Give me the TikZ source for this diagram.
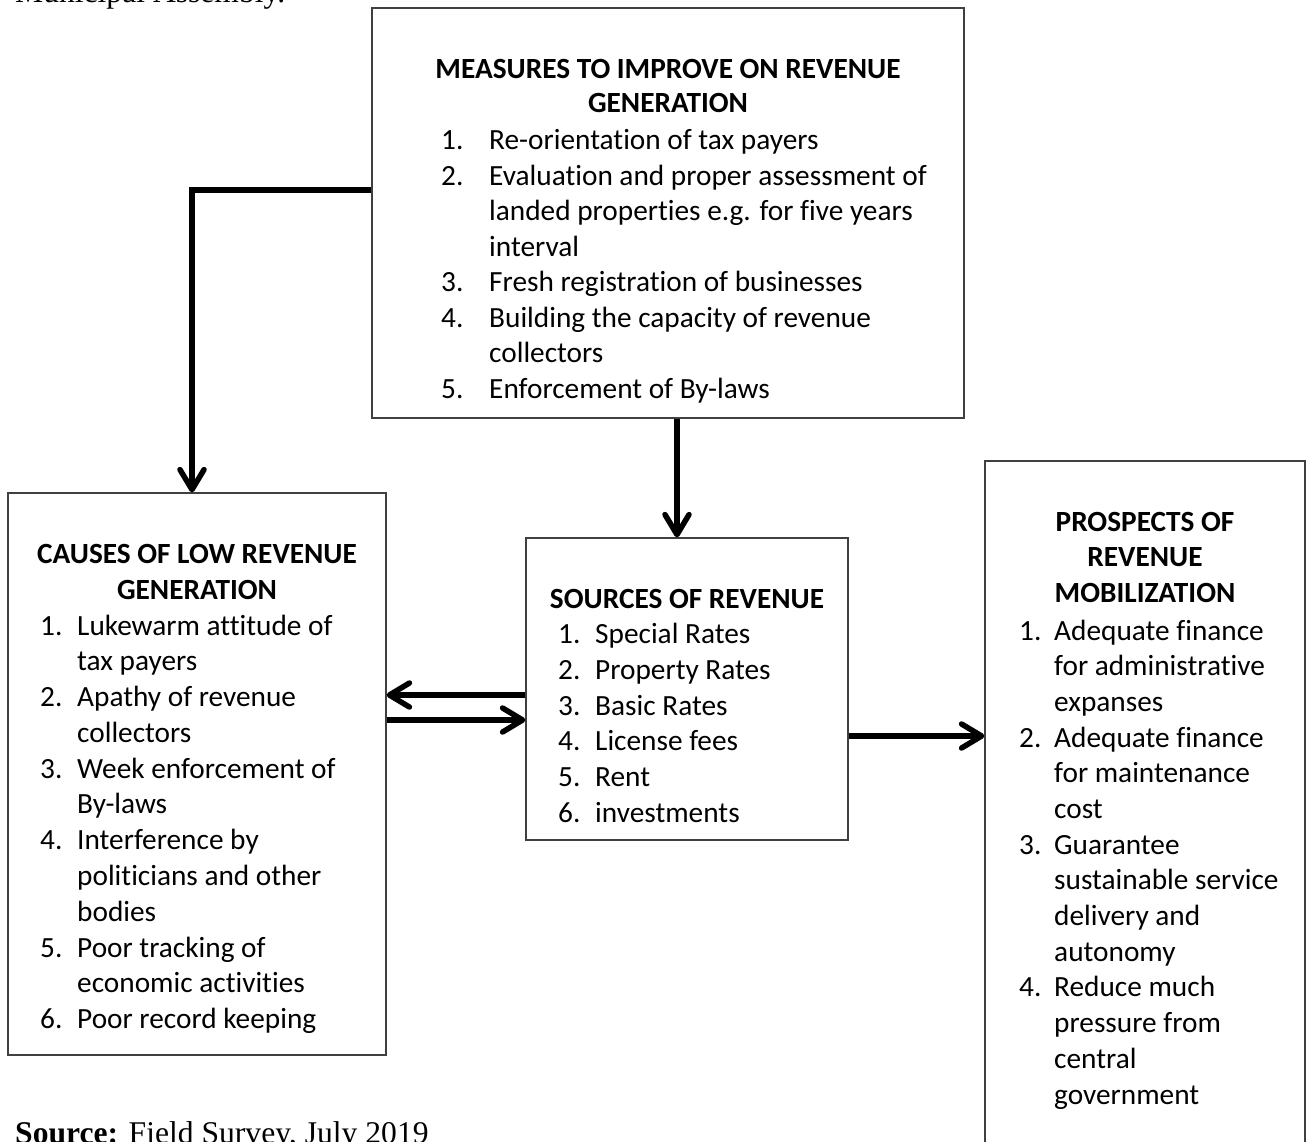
\documentclass[tikz,border=0pt]{standalone}
\usepackage{fontspec}
\setmainfont[Ligatures={NoCommon}]{Carlito}
\newfontfamily\timesfont{Liberation Serif}
\usetikzlibrary{arrows.meta}
\begin{document}
\begin{tikzpicture}[x=1pt,y=-1pt,
  box/.style={draw=black!75, line width=1.3pt, inner sep=0pt},
  conn/.style={line width=5.5pt, -{Straight Barb[length=20pt,width=24pt,line width=5.5pt,round]}},
  txt/.style={font=\fontsize{29.3}{35.8}\selectfont, anchor=base west, inner sep=0pt},
  ttl/.style={font=\bfseries\fontsize{29.3}{35.8}\selectfont, anchor=base, inner sep=0pt},
  note/.style={font=\timesfont\fontsize{31.6}{36}\selectfont, anchor=base west, inner sep=0pt},
]
\useasboundingbox (0,0) rectangle (1313,1141);
\clip (0,0) rectangle (1313,1141);

% boxes
\node[box, minimum width=592pt, minimum height=410pt] (meas) at (668,213) {};
\node[box, minimum width=378pt, minimum height=562pt] (causes) at (197,774) {};
\node[box, minimum width=322pt, minimum height=302pt] (sources) at (687,689) {};
\node[box, minimum width=320pt, minimum height=760pt] (pros) at (1145,841) {};

% helper coordinates for connectors
\coordinate (k1) at (192,190);
\coordinate (k2) at (677,0);
\coordinate (ky1) at (0,695);
\coordinate (ky2) at (0,720);
\coordinate (ky3) at (0,736);

% connectors
\draw[conn] (meas.west |- k1) -- (k1) -- (causes.north -| k1);
\draw[conn] (meas.south -| k2) -- (sources.north -| k2);
\draw[conn] (sources.west |- ky1) -- (causes.east |- ky1);
\draw[conn] (causes.east |- ky2) -- (sources.west |- ky2);
\draw[conn] (sources.east |- ky3) -- (pros.west |- ky3);

% top box text
\node[ttl] (mt1) at (668,78) {MEASURES TO IMPROVE ON REVENUE};
\node[ttl] (mt2) at (668,112) {GENERATION};
\node[txt] (mn1) at (441,149) {1.};
\node[txt] (m1) at (489,149) {Re-orientation of tax payers};
\node[txt] (mn2) at (441,185) {2.};
\node[txt] (m2a) at (489,185) {Evaluation and proper assessment of};
\node[txt] (m2b) at (489,220) {landed properties e.g. for five years};
\node[txt] (m2c) at (489,256) {interval};
\node[txt] (mn3) at (441,291) {3.};
\node[txt] (m3) at (489,291) {Fresh registration of businesses};
\node[txt] (mn4) at (441,327) {4.};
\node[txt] (m4a) at (489,327) {Building the capacity of revenue};
\node[txt] (m4b) at (489,362) {collectors};
\node[txt] (mn5) at (441,398) {5.};
\node[txt] (m5) at (489,398) {Enforcement of By-laws};

% left box text
\node[ttl] (ct1) at (197,563) {CAUSES OF LOW REVENUE};
\node[ttl] (ct2) at (197,599) {GENERATION};
\node[txt] (cn1) at (40,635) {1.};
\node[txt] (c1a) at (77,635) {Lukewarm attitude of};
\node[txt] (c1b) at (77,670) {tax payers};
\node[txt] (cn2) at (40,706) {2.};
\node[txt] (c2a) at (77,706) {Apathy of revenue};
\node[txt] (c2b) at (77,742) {collectors};
\node[txt] (cn3) at (40,778) {3.};
\node[txt] (c3a) at (77,778) {Week enforcement of};
\node[txt] (c3b) at (77,813) {By-laws};
\node[txt] (cn4) at (40,849) {4.};
\node[txt] (c4a) at (77,849) {Interference by};
\node[txt] (c4b) at (77,885) {politicians and other};
\node[txt] (c4c) at (77,921) {bodies};
\node[txt] (cn5) at (40,957) {5.};
\node[txt] (c5a) at (77,957) {Poor tracking of};
\node[txt] (c5b) at (77,992) {economic activities};
\node[txt] (cn6) at (40,1028) {6.};
\node[txt] (c6) at (77,1028) {Poor record keeping};

% middle box text
\node[ttl] (st) at (687,608) {SOURCES OF REVENUE};
\node[txt] (sn1) at (558,643) {1.};
\node[txt] (s1) at (595,643) {Special Rates};
\node[txt] (sn2) at (558,679) {2.};
\node[txt] (s2) at (595,679) {Property Rates};
\node[txt] (sn3) at (558,715) {3.};
\node[txt] (s3) at (595,715) {Basic Rates};
\node[txt] (sn4) at (558,750) {4.};
\node[txt] (s4) at (595,750) {License fees};
\node[txt] (sn5) at (558,786) {5.};
\node[txt] (s5) at (595,786) {Rent};
\node[txt] (sn6) at (558,822) {6.};
\node[txt] (s6) at (595,822) {investments};

% right box text
\node[ttl] (pt1) at (1145,531) {PROSPECTS OF};
\node[ttl] (pt2) at (1145,566) {REVENUE};
\node[ttl] (pt3) at (1145,602) {MOBILIZATION};
\node[txt] (pn1) at (1019,640) {1.};
\node[txt] (p1a) at (1054,640) {Adequate finance};
\node[txt] (p1b) at (1054,675) {for administrative};
\node[txt] (p1c) at (1054,711) {expanses};
\node[txt] (pn2) at (1019,747) {2.};
\node[txt] (p2a) at (1054,747) {Adequate finance};
\node[txt] (p2b) at (1054,782) {for maintenance};
\node[txt] (p2c) at (1054,818) {cost};
\node[txt] (pn3) at (1019,854) {3.};
\node[txt] (p3a) at (1054,854) {Guarantee};
\node[txt] (p3b) at (1054,889) {sustainable service};
\node[txt] (p3c) at (1054,925) {delivery and};
\node[txt] (p3d) at (1054,961) {autonomy};
\node[txt] (pn4) at (1019,996) {4.};
\node[txt] (p4a) at (1054,996) {Reduce much};
\node[txt] (p4b) at (1054,1032) {pressure from};
\node[txt] (p4c) at (1054,1068) {central};
\node[txt] (p4d) at (1054,1104) {government};

% surrounding document text
\node[note] (muni) at (15,2) {Municipal Assembly.};
\node[note] (srcnote) at (15,1143) {\textbf{Source:} Field Survey, July 2019};
\end{tikzpicture}
\end{document}
